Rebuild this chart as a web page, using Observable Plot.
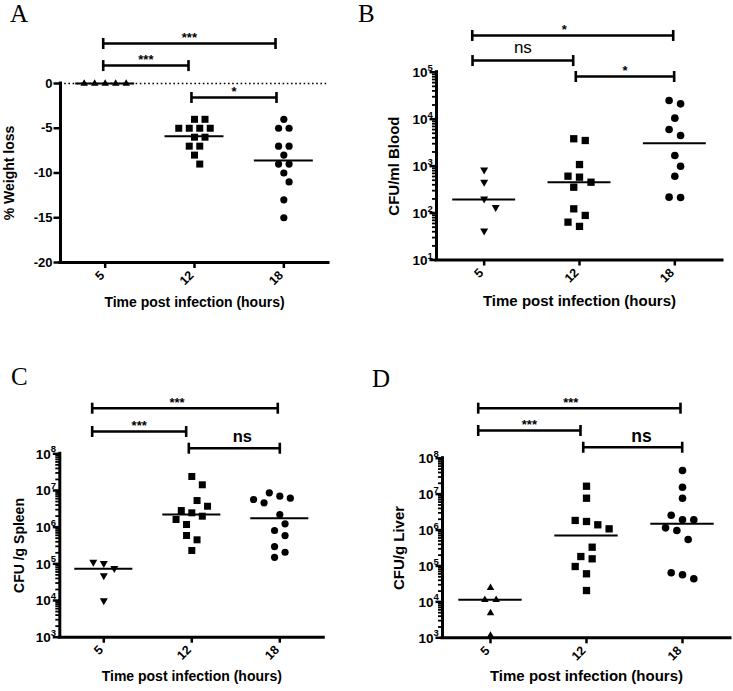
<!DOCTYPE html>
<html>
<head>
<meta charset="utf-8">
<script src="https://cdn.jsdelivr.net/npm/d3@7"></script>
<script src="https://cdn.jsdelivr.net/npm/@observablehq/plot@0.6"></script>
<style>
  body { margin: 0; background: #fff; }
  #fig { position: relative; width: 733px; height: 691px; overflow: hidden; background: #fff; }
  .panel { position: absolute; }
  .panel svg { overflow: visible; }
  .letter { position: absolute; font-family: "Liberation Serif", "Times New Roman", serif; font-size: 25px; line-height: normal; color: #000; }
</style>
</head>
<body>
<div id="fig"></div>
<script>
// ---------------- data ----------------
const times = ["5", "12", "18"];

// A: % weight loss
const weight5  = [0, 0, 0, 0, 0];
const weight12 = [-4, -4, -5, -5, -5, -5, -6, -6, -7, -7, -8, -9];
const weight18 = [-4, -5, -5, -7, -7, -8, -9, -9, -10, -11, -13, -15];
const weightLines = [0, -5.9, -8.6];
const weightTicks = [0, -5, -10, -15, -20];
const weightTickLabels = ["0", "-5", "-10", "-15", "-20"];
const sigA = ["***", "***", "*"];

// B: CFU/ml blood
const blood5  = [834, 454, 201, 133, 42];
const blood12 = [3820, 3510, 1080, 610, 581, 454, 355, 123, 89, 64, 52];
const blood18 = [24900, 21200, 10500, 6020, 4490, 1680, 995, 610, 218, 214];
const bloodLines = [195, 454, 3080];
const bloodTicks = [10, 100, 1e3, 1e4, 1e5];
const bloodTickExps = ["1", "2", "3", "4", "5"];
const sigB = ["*", "ns", "*"];

// C: CFU/g spleen
const spleen5  = [111000, 104000, 75900, 48000, 10000];
const spleen12 = [2.41e7, 1.43e7, 5.32e6, 3.72e6, 2.84e6, 2.46e6, 1.99e6, 1.62e6, 1.18e6, 5.92e5, 4.52e5, 2.31e5];
const spleen18 = [8.63e6, 6.98e6, 6.15e6, 5.68e6, 4.62e6, 2.21e6, 1.23e6, 8.1e5, 5.9e5, 2.96e5, 2.07e5, 1.51e5];
const spleenLines = [7.4e4, 2.2e6, 1.75e6];
const organTicks = [1e3, 1e4, 1e5, 1e6, 1e7, 1e8];
const organTickExps = ["3", "4", "5", "6", "7", "8"];
const sigC = ["***", "***", "ns"];

// D: CFU/g liver
const liver5  = [24700, 11400, 11400, 4840, 1150];
const liver12 = [1.66e7, 7.69e6, 1.85e6, 1.73e6, 1.40e6, 1.08e6, 3.33e5, 1.83e5, 1.58e5, 9.66e4, 6.05e4, 2.07e4];
const liver18 = [4.55e7, 1.56e7, 7.69e6, 2.59e6, 1.93e6, 1.93e6, 1.15e6, 9.7e5, 5.46e5, 6.46e4, 5.67e4, 4.40e4];
const liverLines = [11400, 7.05e5, 1.5e6];
const sigD = ["***", "***", "ns"];

const xTitle = "Time post infection (hours)";

// ---------------- symbols ----------------
const rectSym = (x0, y0, w, h) => ({draw(ctx) { ctx.moveTo(x0, y0); ctx.lineTo(x0 + w, y0); ctx.lineTo(x0 + w, y0 + h); ctx.lineTo(x0, y0 + h); ctx.closePath(); }});
const triUp = (w, h) => ({draw(ctx) { ctx.moveTo(0, -2 * h / 3); ctx.lineTo(w / 2, h / 3); ctx.lineTo(-w / 2, h / 3); ctx.closePath(); }});
const triDown = (w, h) => ({draw(ctx) { ctx.moveTo(0, 2 * h / 3); ctx.lineTo(w / 2, -h / 3); ctx.lineTo(-w / 2, -h / 3); ctx.closePath(); }});
const squareSym = s => rectSym(-s / 2, -s / 2, s, s);
const circleSym = r => ({draw(ctx) { ctx.moveTo(r, 0); ctx.arc(0, 0, r, 0, 2 * Math.PI); ctx.closePath(); }});

// beeswarm layout (pixel offsets) computed from the y pixel positions
function swarm(py, d) {
  const off = new Array(py.length).fill(0);
  const rows = [];
  py.forEach((y, i) => {
    const r = rows.find(r => Math.abs(py[r[0]] - y) < 0.6 * d);
    if (r) r.push(i); else rows.push([i]);
  });
  rows.sort((a, b) => b.length - a.length);
  const placed = [];
  const shifts = [0];
  for (let k = 1; k <= 14; k++) shifts.push(k * d / 2, -k * d / 2);
  for (const r of rows) {
    const m = r.length;
    for (const s of shifts) {
      const xs = r.map((_, k) => (k - (m - 1) / 2) * d + s);
      const ok = r.every((i, k) => placed.every(p => Math.hypot(p.x - xs[k], p.y - py[i]) >= d * 0.97));
      if (ok) { r.forEach((i, k) => { off[i] = xs[k]; placed.push({x: xs[k], y: py[i]}); }); break; }
    }
  }
  return off;
}

const FONT = "'Liberation Sans', Arial, Helvetica, sans-serif";
const black = {fill: "black", stroke: "none"};

const panels = [
  {
    letter: "A", letterPos: [10, 0],
    left: 0, top: 0, width: 366, height: 345, margin: [83, 38, 83, 60],
    yType: "linear", yDomain: [-20, 0], zeroLine: true,
    groups: [weight5, weight12, weight18], lines: weightLines,
    symbols: [triUp(7.5, 6.5), squareSym(7), circleSym(3.6)], spacing: 10.5,
    majors: weightTicks, majorLabels: weightTickLabels, tickFont: 13,
    yTitle: "% Weight loss", yTitleDx: -51, xTitleDy: 44, titleFont: 14,
    brackets: [
      {x1: -0.022, x2: 1.907, y: 4.47, label: sigA[0], ldx: 0},
      {x1: -0.022, x2: 0.933, y: 2.0, label: sigA[1], ldx: 0},
      {x1: 0.966, x2: 1.918, y: -1.56, label: sigA[2], ldx: 0}
    ]
  },
  {
    letter: "B", letterPos: [358, 0],
    left: 366, top: 0, width: 367, height: 345, margin: [71.7, 11, 85.5, 70],
    yType: "log", yDomain: [10, 1e5],
    groups: [blood5, blood12, blood18], lines: bloodLines,
    symbols: [triDown(8, 7), squareSym(7.3), circleSym(3.8)], spacing: 11.5,
    majors: bloodTicks, majorExps: bloodTickExps, tickFont: 13.5,
    yTitle: "CFU/ml Blood", yTitleDx: -42, xTitleDy: 45.5, titleFont: 15,
    brackets: [
      {x1: -0.125, x2: 1.983, y: 6.06e5, label: sigB[0], ldx: -8.5},
      {x1: -0.122, x2: 0.934, y: 1.77e5, label: sigB[1], ldx: 0},
      {x1: 0.961, x2: 1.993, y: 8.1e4, label: sigB[2], ldx: 0}
    ],
    nsStyle: {fontSize: 17, fontWeight: "normal", dy: -13}
  },
  {
    letter: "C", letterPos: [11, 362.7],
    left: 0, top: 345, width: 366, height: 346, margin: [108.3, 42.7, 54.3, 59.3],
    yType: "log", yDomain: [1e3, 1e8],
    groups: [spleen5, spleen12, spleen18], lines: spleenLines,
    symbols: [triDown(8, 7), squareSym(7), circleSym(3.6)], spacing: 10.5,
    majors: organTicks, majorExps: organTickExps, tickFont: 13.5,
    yTitle: "CFU /g Spleen", yTitleDx: -40.3, xTitleDy: 43.3, titleFont: 14,
    brackets: [
      {x1: -0.132, x2: 1.977, y: 1.75e9, label: sigC[0], ldx: -8},
      {x1: -0.132, x2: 0.936, y: 4.06e8, label: sigC[1], ldx: 0},
      {x1: 0.966, x2: 2.0, y: 1.42e8, label: sigC[2], ldx: 8}
    ],
    nsStyle: {fontSize: 16.5, fontWeight: "bold", dy: -11}
  },
  {
    letter: "D", letterPos: [372, 364.7],
    left: 366, top: 345, width: 367, height: 346, margin: [112.7, 3, 53.7, 76],
    yType: "log", yDomain: [1e3, 1e8],
    groups: [liver5, liver12, liver18], lines: liverLines,
    symbols: [triUp(7.5, 6.5), squareSym(7.3), circleSym(3.8)], spacing: 11.3,
    majors: organTicks, majorExps: organTickExps, tickFont: 13.5,
    yTitle: "CFU/g Liver", yTitleDx: -43, xTitleDy: 42.7, titleFont: 15,
    brackets: [
      {x1: -0.128, x2: 1.979, y: 2.47e9, label: sigD[0], ldx: -8.6},
      {x1: -0.128, x2: 0.9375, y: 5.9e8, label: sigD[1], ldx: 0},
      {x1: 0.966, x2: 1.997, y: 2.02e8, label: sigD[2], ldx: 8.8}
    ],
    nsStyle: {fontSize: 17.5, fontWeight: "bold", dy: -11}
  }
];

const fig = document.getElementById("fig");

for (const p of panels) {
  const [mt, mr, mb, ml] = p.margin;
  const fw = p.width - ml - mr;
  const step = fw / 3;
  const yS = Plot.scale({y: {type: p.yType, domain: p.yDomain, range: [p.height - mb, mt]}});
  const marks = [];

  if (p.zeroLine) marks.push(Plot.ruleY([0], {stroke: "black", strokeWidth: 1.6, strokeDasharray: "1.6,2.6"}));

  // y axis ticks
  if (p.yType === "log") {
    const lo = Math.round(Math.log10(p.yDomain[0])), hi = Math.round(Math.log10(p.yDomain[1]));
    const minors = [];
    for (let e = lo; e < hi; e++) for (let m = 2; m <= 9; m++) minors.push(m * Math.pow(10, e));
    marks.push(Plot.dot(minors, {y: d => d, frameAnchor: "left", symbol: rectSym(-4.5, -0.9, 4.5, 1.8), ...black}));
    marks.push(Plot.dot(p.majors, {y: d => d, frameAnchor: "left", symbol: rectSym(-7, -1.25, 7, 2.5), ...black}));
    // "10" with raised exponent
    marks.push(Plot.text(p.majors, {y: d => d, frameAnchor: "left", text: () => "10", textAnchor: "end", dx: -9, dy: 0.5, fontSize: p.tickFont, fontWeight: "bold", fill: "black"}));
    marks.push(Plot.text(p.majors, {y: d => d, frameAnchor: "left", text: (d, i) => p.majorExps[i], textAnchor: "start", dx: -9, dy: -4.5, fontSize: 9.5, fontWeight: "bold", fill: "black"}));
  } else {
    marks.push(Plot.dot(p.majors, {y: d => d, frameAnchor: "left", symbol: rectSym(-7, -1.25, 7, 2.5), ...black}));
    marks.push(Plot.text(p.majors, {y: d => d, frameAnchor: "left", text: (d, i) => p.majorLabels[i], textAnchor: "end", dx: -8, fontSize: p.tickFont, fontWeight: "bold", fill: "black"}));
  }

  // x axis ticks
  const idx = times.map((t, i) => i);
  marks.push(Plot.dot(idx, {x: d => d, frameAnchor: "bottom", symbol: rectSym(-1.25, 0, 2.5, 5.5), ...black}));
  marks.push(Plot.text(idx, {x: d => d, frameAnchor: "bottom", text: d => times[d], rotate: -45, textAnchor: "end", dy: 13.5, dx: 0, fontSize: 12.5, fontWeight: "bold", fill: "black"}));

  // axis lines
  marks.push(Plot.ruleX([-0.5], {stroke: "black", strokeWidth: 3, strokeLinecap: "square"}));
  marks.push(Plot.ruleY([p.yDomain[0]], {stroke: "black", strokeWidth: 3, strokeLinecap: "square"}));

  // axis titles
  marks.push(Plot.text([xTitle], {frameAnchor: "bottom", text: d => d, textAnchor: "middle", dy: p.xTitleDy, fontSize: p.titleFont, fontWeight: "bold", fill: "black"}));
  marks.push(Plot.text([p.yTitle], {frameAnchor: "left", text: d => d, textAnchor: "middle", rotate: -90, dx: p.yTitleDx, fontSize: p.titleFont, fontWeight: "bold", fill: "black"}));

  // central lines
  const lineData = p.lines.map((v, i) => ({i, v}));
  marks.push(Plot.ruleY(lineData, {y: "v", x1: d => d.i - 0.33, x2: d => d.i + 0.33, stroke: "black", strokeWidth: 2}));

  // points
  p.groups.forEach((vals, gi) => {
    const py = vals.map(v => yS.apply(v));
    const offs = swarm(py, p.spacing);
    const pts = vals.map((v, k) => ({x: gi + offs[k] / step, v}));
    marks.push(Plot.dot(pts, {x: "x", y: "v", symbol: p.symbols[gi], ...black}));
  });

  // significance brackets
  marks.push(Plot.ruleY(p.brackets, {y: "y", x1: "x1", x2: "x2", stroke: "black", strokeWidth: 2.5}));
  const caps = p.brackets.flatMap(b => [{x: b.x1, y: b.y}, {x: b.x2, y: b.y}]);
  marks.push(Plot.dot(caps, {x: "x", y: "y", symbol: rectSym(-1.3, -5.5, 2.6, 11), ...black}));
  const stars = p.brackets.filter(b => b.label !== "ns");
  const ns = p.brackets.filter(b => b.label === "ns");
  marks.push(Plot.text(stars.map(b => ({...b, xm: (b.x1 + b.x2) / 2 + b.ldx / step})), {x: "xm", y: "y", text: "label", dy: -5.5, fontSize: 13, fontWeight: "bold", fill: "black"}));
  if (ns.length) {
    const s = p.nsStyle;
    marks.push(Plot.text(ns.map(b => ({...b, xm: (b.x1 + b.x2) / 2 + b.ldx / step})), {x: "xm", y: "y", text: "label", dy: s.dy, fontSize: s.fontSize, fontWeight: s.fontWeight, fill: "black"}));
  }

  const svg = Plot.plot({
    width: p.width, height: p.height,
    marginTop: mt, marginRight: mr, marginBottom: mb, marginLeft: ml,
    x: {type: "linear", domain: [-0.5, 2.5], axis: null},
    y: {type: p.yType, domain: p.yDomain, axis: null},
    style: {fontFamily: FONT, background: "transparent", color: "black", overflow: "visible"},
    marks
  });
  const holder = document.createElement("div");
  holder.className = "panel";
  holder.style.left = p.left + "px";
  holder.style.top = p.top + "px";
  holder.style.width = p.width + "px";
  holder.style.height = p.height + "px";
  holder.appendChild(svg);
  fig.appendChild(holder);

  const L = document.createElement("div");
  L.className = "letter";
  L.textContent = p.letter;
  L.style.left = p.letterPos[0] + "px";
  L.style.top = p.letterPos[1] + "px";
  fig.appendChild(L);
}
</script>
</body>
</html>
